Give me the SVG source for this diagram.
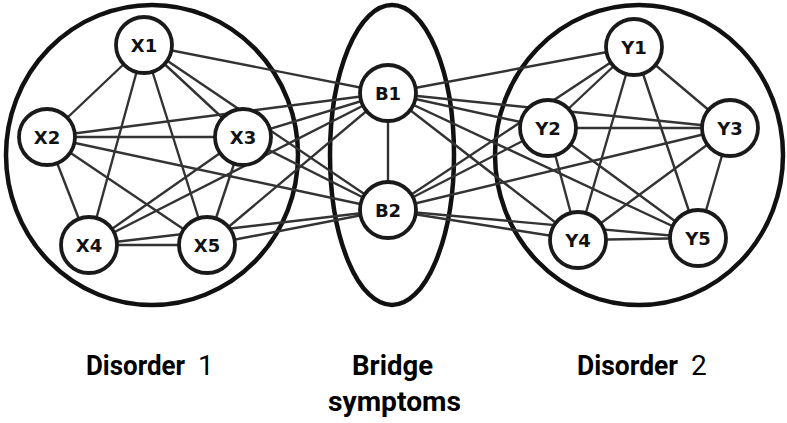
<svg xmlns="http://www.w3.org/2000/svg" width="787" height="423" viewBox="0 0 787 423">
<style>
.grp{fill:none;stroke:#111;stroke-width:4.5}
.edges line{stroke:#333;stroke-width:2.4;stroke-linecap:round}
.node circle{fill:#fff;stroke:#1a1a1a;stroke-width:3.8}
.node text{font-family:"DejaVu Sans",sans-serif;font-weight:bold;font-size:18px;fill:#111;text-anchor:middle}
.cap{font-family:Roboto,"Liberation Sans",Arial,sans-serif;font-size:28px;fill:#000}
.b{font-weight:bold}
.n{font-weight:normal}
</style>
<rect width="787" height="423" fill="#fff"/>
<g id="groups">
<ellipse id="disorder1" class="grp" cx="152" cy="155" rx="146" ry="150"/>
<ellipse id="bridge" class="grp" cx="392" cy="155" rx="62" ry="150"/>
<ellipse id="disorder2" class="grp" cx="639" cy="155" rx="144" ry="150"/>
</g>
<g id="connectors" class="edges">
<line x1="144" y1="45" x2="47" y2="137"/>
<line x1="144" y1="45" x2="243" y2="137"/>
<line x1="144" y1="45" x2="89" y2="245"/>
<line x1="144" y1="45" x2="207" y2="245"/>
<line x1="47" y1="137" x2="243" y2="137"/>
<line x1="47" y1="137" x2="89" y2="245"/>
<line x1="47" y1="137" x2="207" y2="245"/>
<line x1="243" y1="137" x2="89" y2="245"/>
<line x1="243" y1="137" x2="207" y2="245"/>
<line x1="89" y1="245" x2="207" y2="245"/>
<line x1="634" y1="47" x2="548" y2="128"/>
<line x1="634" y1="47" x2="730" y2="128"/>
<line x1="634" y1="47" x2="578" y2="240"/>
<line x1="634" y1="47" x2="698" y2="238"/>
<line x1="548" y1="128" x2="730" y2="128"/>
<line x1="548" y1="128" x2="578" y2="240"/>
<line x1="548" y1="128" x2="698" y2="238"/>
<line x1="730" y1="128" x2="578" y2="240"/>
<line x1="730" y1="128" x2="698" y2="238"/>
<line x1="578" y1="240" x2="698" y2="238"/>
<line x1="388" y1="93" x2="388" y2="210"/>
<line x1="144" y1="45" x2="388" y2="93"/>
<line x1="47" y1="137" x2="388" y2="93"/>
<line x1="243" y1="137" x2="388" y2="93"/>
<line x1="89" y1="245" x2="388" y2="93"/>
<line x1="207" y1="245" x2="388" y2="93"/>
<line x1="144" y1="45" x2="388" y2="210"/>
<line x1="47" y1="137" x2="388" y2="210"/>
<line x1="243" y1="137" x2="388" y2="210"/>
<line x1="89" y1="245" x2="388" y2="210"/>
<line x1="207" y1="245" x2="388" y2="210"/>
<line x1="634" y1="47" x2="388" y2="93"/>
<line x1="548" y1="128" x2="388" y2="93"/>
<line x1="730" y1="128" x2="388" y2="93"/>
<line x1="578" y1="240" x2="388" y2="93"/>
<line x1="698" y1="238" x2="388" y2="93"/>
<line x1="634" y1="47" x2="388" y2="210"/>
<line x1="548" y1="128" x2="388" y2="210"/>
<line x1="730" y1="128" x2="388" y2="210"/>
<line x1="578" y1="240" x2="388" y2="210"/>
<line x1="698" y1="238" x2="388" y2="210"/>
</g>
<g id="X1" class="node"><circle cx="144" cy="45" r="28"/><text x="144" y="51.5">X1</text></g>
<g id="X2" class="node"><circle cx="47" cy="137" r="28"/><text x="47" y="143.5">X2</text></g>
<g id="X3" class="node"><circle cx="243" cy="137" r="28"/><text x="243" y="143.5">X3</text></g>
<g id="X4" class="node"><circle cx="89" cy="245" r="28"/><text x="89" y="251.5">X4</text></g>
<g id="X5" class="node"><circle cx="207" cy="245" r="28"/><text x="207" y="251.5">X5</text></g>
<g id="B1" class="node"><circle cx="388" cy="93" r="28"/><text x="388" y="99.5">B1</text></g>
<g id="B2" class="node"><circle cx="388" cy="210" r="28"/><text x="388" y="216.5">B2</text></g>
<g id="Y1" class="node"><circle cx="634" cy="47" r="28"/><text x="634" y="53.5">Y1</text></g>
<g id="Y2" class="node"><circle cx="548" cy="128" r="28"/><text x="548" y="134.5">Y2</text></g>
<g id="Y3" class="node"><circle cx="730" cy="128" r="28"/><text x="730" y="134.5">Y3</text></g>
<g id="Y4" class="node"><circle cx="578" cy="240" r="28"/><text x="578" y="246.5">Y4</text></g>
<g id="Y5" class="node"><circle cx="698" cy="238" r="28"/><text x="698" y="244.5">Y5</text></g>
<g id="captions">
<text class="cap" x="86" y="375"><tspan class="b" textLength="99" lengthAdjust="spacingAndGlyphs">Disorder</tspan><tspan class="n" x="198">1</tspan></text>
<text class="cap b" x="352" y="375" textLength="81" lengthAdjust="spacingAndGlyphs">Bridge</text>
<text class="cap b" x="328" y="411" textLength="133" lengthAdjust="spacingAndGlyphs">symptoms</text>
<text class="cap" x="577" y="375"><tspan class="b" textLength="101" lengthAdjust="spacingAndGlyphs">Disorder</tspan><tspan class="n" x="691">2</tspan></text>
</g>
</svg>
